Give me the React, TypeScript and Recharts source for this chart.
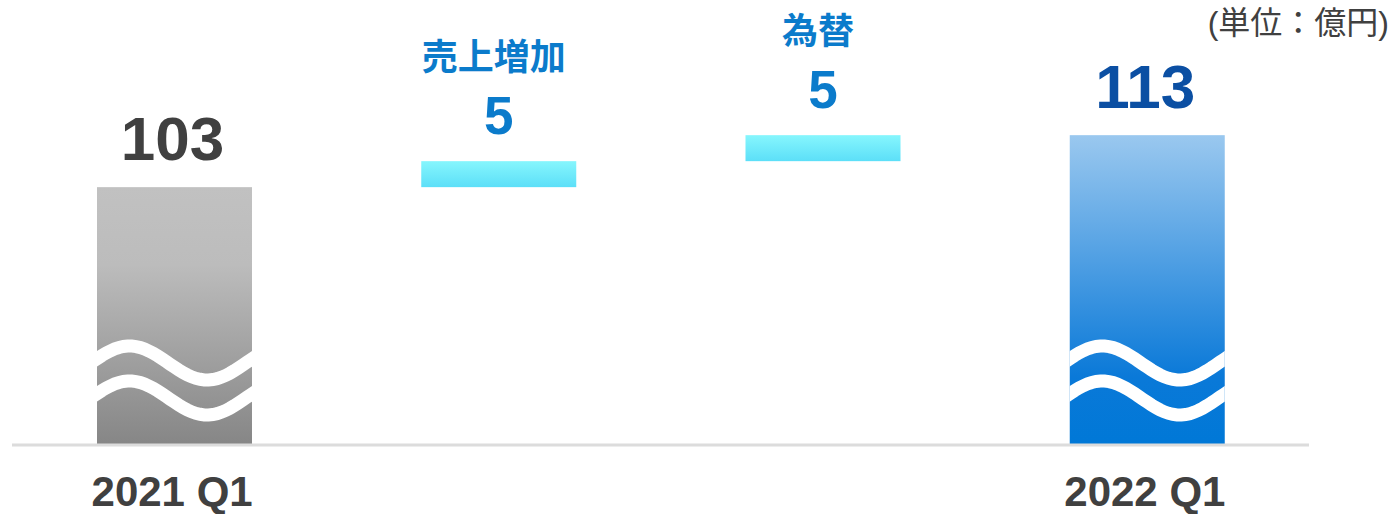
import { Bar, BarChart, LabelList, XAxis, YAxis } from 'recharts';

// waterfall: previous quarter -> increments -> current quarter (億円)
const categories = ['2021 Q1', '売上増加', '為替', '2022 Q1'];
const kinds = ['total', 'delta', 'delta', 'total'];
const values = [103, 5, 5, 113];

// the value axis is broken: it starts here instead of at 0
const AXIS_BREAK = 53.4;
const AXIS_TOP = 139;

const FONT = "'Liberation Sans', Arial, 'Noto Sans CJK JP', sans-serif";
const FILLS = ['url(#gGray)', 'url(#gCyan)', 'url(#gCyan)', 'url(#gBlue)'];
const VALUE_COLORS = ['#404040', '#0b7bcb', '#0b7bcb', '#0b4fa3'];

let running = 0;
const data = categories.map((name, i) => {
  let low: number;
  let high: number;
  if (kinds[i] === 'total') {
    low = AXIS_BREAK;
    high = values[i];
    running = values[i];
  } else {
    low = running;
    high = running + values[i];
    running = high;
  }
  return { name, kind: kinds[i], idx: i, value: values[i], range: [low, high] };
});

function wavePath(x: number, w: number, cy: number) {
  const pts: string[] = [];
  const steps = 40;
  for (let s = 0; s <= steps; s++) {
    const t = -0.05 + (1.1 * s) / steps;
    const px = x + t * w;
    const py = cy - 17 * Math.cos(2 * Math.PI * (t - 0.21));
    pts.push(`${s === 0 ? 'M' : 'L'}${px.toFixed(1)},${py.toFixed(1)}`);
  }
  return pts.join(' ');
}

function BarShape(props: any) {
  const { x, y, width, height, payload } = props;
  const i = payload.idx;
  const bottom = y + height;
  return (
    <g>
      <rect x={x} y={y} width={width} height={height} fill={FILLS[i]} />
      {payload.kind === 'total' && (
        <g clipPath={`url(#clip${i})`}>
          <defs>
            <clipPath id={`clip${i}`}>
              <rect x={x} y={y} width={width} height={height} />
            </clipPath>
          </defs>
          <path d={wavePath(x, width, bottom - 82)} stroke='#fff' strokeWidth={13} fill='none' />
          <path d={wavePath(x, width, bottom - 47)} stroke='#fff' strokeWidth={13} fill='none' />
        </g>
      )}
    </g>
  );
}

function ValueLabel(props: any) {
  const { x, y, width, index } = props;
  const cx = x + width / 2;
  const isDelta = kinds[index] === 'delta';
  return (
    <g>
      <text
        x={cx - (isDelta ? 0 : 2)}
        y={y - 27}
        textAnchor='middle'
        fontFamily={FONT}
        fontWeight='bold'
        fontSize={isDelta ? 53 : 62}
        fill={VALUE_COLORS[index]}
      >
        {values[index]}
      </text>
      {isDelta && (
        <text
          x={cx - 5}
          y={y - 91}
          textAnchor='middle'
          fontFamily={FONT}
          fontWeight='bold'
          fontSize={36}
          fill='#0b7bcb'
        >
          {categories[index]}
        </text>
      )}
    </g>
  );
}

function AxisTick(props: any) {
  const { x, y, index } = props;
  if (kinds[index] !== 'total') return null;
  return (
    <text
      x={x - 2}
      y={y + 61}
      textAnchor='middle'
      fontFamily={FONT}
      fontWeight='bold'
      fontSize={42}
      fill='#404040'
    >
      {categories[index]}
    </text>
  );
}

export default function App() {
  return (
    <div style={{ position: 'absolute', left: 0, top: 0, width: 1393, height: 514, background: '#fff' }}>
      <BarChart
        width={1393}
        height={514}
        data={data}
        margin={{ top: 0, right: 84, left: 12, bottom: 0 }}
      >
        <defs>
          <linearGradient id='gGray' x1='0' y1='0' x2='0' y2='1'>
            <stop offset='0' stopColor='#c1c1c1' />
            <stop offset='0.3' stopColor='#bcbcbc' />
            <stop offset='1' stopColor='#868686' />
          </linearGradient>
          <linearGradient id='gBlue' x1='0' y1='0' x2='0' y2='1'>
            <stop offset='0' stopColor='#9ac8ef' />
            <stop offset='0.78' stopColor='#0a79d8' />
            <stop offset='1' stopColor='#0078d7' />
          </linearGradient>
          <linearGradient id='gCyan' x1='0' y1='0' x2='0' y2='1'>
            <stop offset='0' stopColor='#86f6fd' />
            <stop offset='1' stopColor='#5cdff8' />
          </linearGradient>
        </defs>
        <XAxis
          dataKey='name'
          height={69}
          tickLine={false}
          tickSize={0}
          tickMargin={0}
          interval={0}
          axisLine={{ stroke: '#dcdcdc', strokeWidth: 3 }}
          tick={<AxisTick />}
        />
        <YAxis hide domain={[AXIS_BREAK, AXIS_TOP]} allowDataOverflow />
        <Bar dataKey='range' barSize={155} shape={<BarShape />} isAnimationActive={false}>
          <LabelList dataKey='value' content={<ValueLabel />} />
        </Bar>
      </BarChart>
      <svg width={1393} height={514} style={{ position: 'absolute', left: 0, top: 0, pointerEvents: 'none' }}>
        <text x={1389} y={34} textAnchor='end' fontFamily={FONT} fontSize={32} fill='#404040'>
          (単位：億円)
        </text>
      </svg>
    </div>
  );
}
